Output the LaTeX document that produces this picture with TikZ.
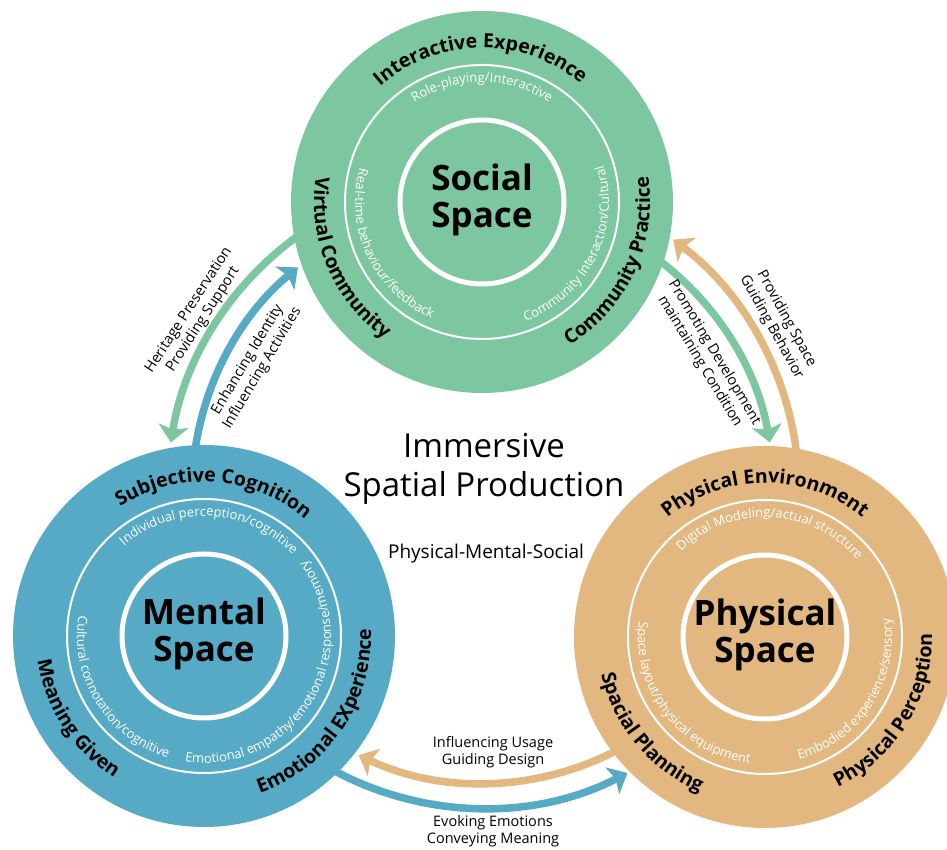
\documentclass[tikz,border=0pt]{standalone}
\usepackage{fontspec}
\setmainfont{Open Sans}
\usetikzlibrary{arrows.meta,decorations.text}

\definecolor{socgreen}{RGB}{124,199,159}
\definecolor{menblue}{RGB}{86,170,198}
\definecolor{phyorange}{RGB}{226,184,128}

% text along the upper part of a circle (reads clockwise, letters point outwards)
% #1 centre, #2 mid angle, #3 radius, #4 format, #5 text
\newcommand\uppertext[5]{%
  \path[decorate,decoration={text along path,text align=center,text={|#4|#5}}]
    ([shift={(#2+90:#3)}]#1) arc[start angle=#2+90,end angle=#2-90,radius=#3];}
% text along the lower part of a circle (reads anticlockwise, letters point inwards)
\newcommand\lowertext[5]{%
  \path[decorate,decoration={text along path,text align=center,text={|#4|#5}}]
    ([shift={(#2-90:#3)}]#1) arc[start angle=#2-90,end angle=#2+90,radius=#3];}

\newcommand\bandfont{\fontsize{19.5}{23}\selectfont\bfseries}
\newcommand\ringfont{\color{white}\fontsize{13}{16}\selectfont}

\begin{document}
\begin{tikzpicture}[x=1pt,y=1pt,
  flow/.style={line width=7.5pt,-{Stealth[length=17pt,width=30pt,inset=4pt]}},
  disc/.style={circle,fill=#1,minimum size=382pt,inner sep=0pt},
  midring/.style={draw=white,line width=2pt},
  corering/.style={draw=white,line width=5pt},
  spacename/.style={font=\fontsize{35}{37}\selectfont\bfseries,align=center},
  flowlabel/.style={font=\fontsize{14.5}{17}\selectfont,align=center,text=black}]

\useasboundingbox (0,0) rectangle (947,850);

\coordinate (O) at (483,358);
\coordinate (S) at (482,648);
\coordinate (M) at (204,214);
\coordinate (P) at (765,213);

% connecting arrows, arcs around the common centre
\draw[flow,socgreen]   ([shift={(124:316)}]O) coordinate (g1) arc[start angle=124,end angle=171,radius=316];
\draw[flow,menblue]    ([shift={(175:291)}]O) coordinate (b1) arc[start angle=175,end angle=129.5,radius=291];
\draw[flow,phyorange]  ([shift={(4:316)}]O)   coordinate (o1) arc[start angle=4,end angle=53,radius=316];
\draw[flow,socgreen]   ([shift={(56:291)}]O)  coordinate (g2) arc[start angle=56,end angle=9.8,radius=291];
\draw[flow,phyorange]  ([shift={(-59:291)}]O) coordinate (o2) arc[start angle=-59,end angle=-115.3,radius=291];
\draw[flow,menblue]    ([shift={(-121:316)}]O) coordinate (b2) arc[start angle=-121,end angle=-62.8,radius=316];

% the three spaces
\node[disc=socgreen]  (social)   at (S) {};
\node[disc=menblue]   (mental)   at (M) {};
\node[disc=phyorange] (physical) at (P) {};
\foreach \c in {S,M,P}{
  \draw[midring]  (\c) circle[radius=137];
  \draw[corering] (\c) circle[radius=82];
}

\node[spacename] (socialname)   at ([yshift=2]S) {Social\\Space};
\node[spacename] (mentalname)   at ([yshift=2]M) {Mental\\Space};
\node[spacename] (physicalname) at ([yshift=2]P) {Physical\\Space};

% social space
\uppertext{S}{90.7}{154}{\bandfont}{Interactive Experience}
\uppertext{S}{90}{120}{\ringfont}{Role-playing/Interactive}
\lowertext{S}{203}{168}{\bandfont}{Virtual Community}
\lowertext{S}{205.5}{127}{\ringfont}{Real-time behaviour/feedback}
\lowertext{S}{-26.5}{127}{\ringfont}{Community Interaction/Cultural}
\lowertext{S}{-25}{168}{\bandfont}{Community Practice}

% mental space
\uppertext{M}{86}{154}{\bandfont}{Subjective Cognition}
\uppertext{M}{87}{120}{\ringfont}{Individual perception/cognitive}
\lowertext{M}{-34}{167}{\bandfont}{Emotional EXperience}
\lowertext{M}{-31}{127}{\ringfont}{Emotional empathy/emotional response/memory}
\lowertext{M}{212}{127}{\ringfont}{Cultural connotation/cognitive}
\lowertext{M}{213}{168}{\bandfont}{Meaning Given}

% physical space
\uppertext{P}{90}{154}{\bandfont}{Physical Environment}
\uppertext{P}{87}{120}{\ringfont}{Digital Modeling/actual structure}
\lowertext{P}{220}{168}{\bandfont}{Spacial Planning}
\lowertext{P}{218}{127}{\ringfont}{Space layout/physical equipment}
\lowertext{P}{-33}{127}{\ringfont}{Embodied experience/sensory}
\lowertext{P}{-31.5}{167}{\bandfont}{Physical Perception}

% centre
\node[font=\fontsize{33}{39}\selectfont,align=center] (title) at (484,381) {Immersive\\Spatial Production};
\node[font=\fontsize{19}{22}\selectfont] (subtitle) at (486,296) {Physical-Mental-Social};

% arrow labels
\node[flowlabel,rotate=57]  (lbl1) at (196,535) {Heritage Preservation\\Providing Support};
\node[flowlabel,rotate=59]  (lbl2) at (255,486) {Enhancing Identity\\Influencing Activities};
\node[flowlabel,rotate=-59] (lbl3) at (707,493) {Promoting Development\\maintaining Condition};
\node[flowlabel,rotate=-61] (lbl4) at (779,527) {Providing Space\\Guiding Behavior};
\node[flowlabel]            (lbl5) at (493,98)  {Influencing Usage\\Guiding Design};
\node[flowlabel]            (lbl6) at (493,19)  {Evoking Emotions\\Conveying Meaning};

\end{tikzpicture}
\end{document}
